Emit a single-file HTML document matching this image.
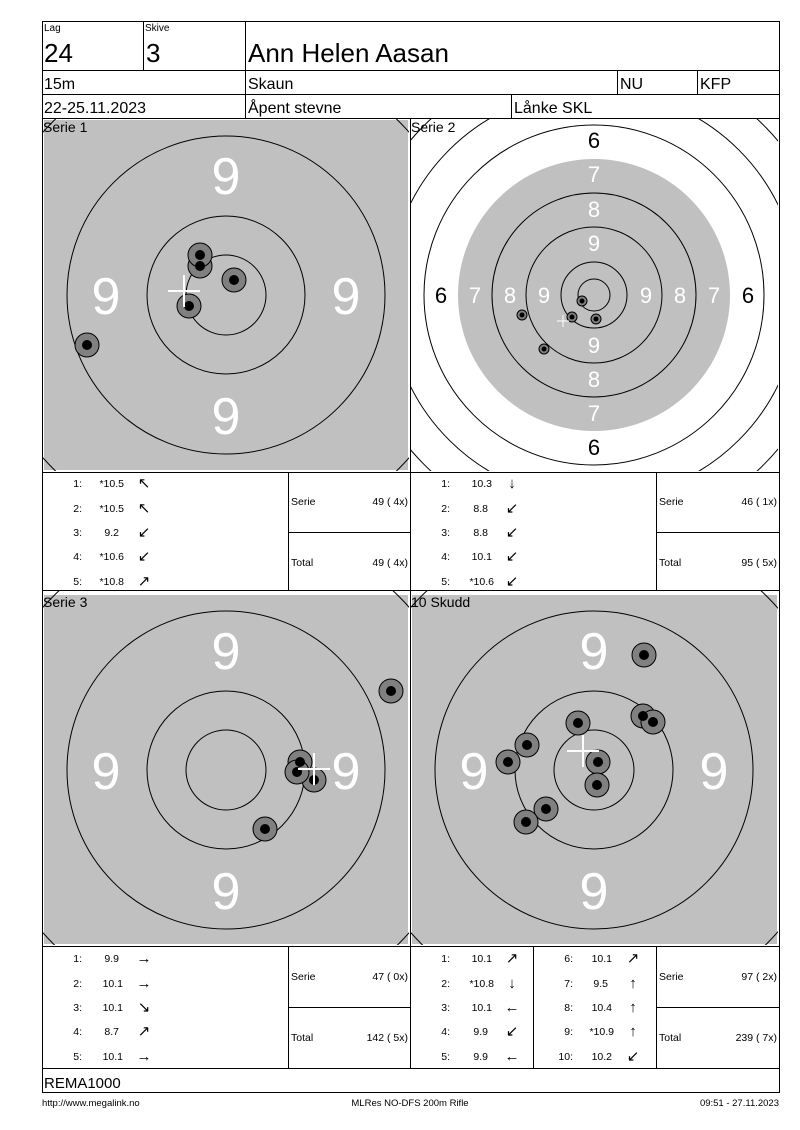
<!DOCTYPE html>
<html><head><meta charset="utf-8"><style>
html,body{margin:0;padding:0;background:#fff}
svg{display:block}
text{font-family:"Liberation Sans",Arial,sans-serif}
</style></head><body>
<svg width="800" height="1130" viewBox="0 0 800 1130" xmlns="http://www.w3.org/2000/svg">
<defs>
<clipPath id="c1"><rect x="43" y="119" width="366" height="352"/></clipPath>
<clipPath id="c2"><rect x="411" y="119" width="367" height="352"/></clipPath>
<clipPath id="c3"><rect x="43" y="591" width="366" height="354"/></clipPath>
<clipPath id="c4"><rect x="411" y="591" width="367" height="354"/></clipPath>
</defs>
<g fill="none" stroke="#000" stroke-width="1">
<!-- header -->
<rect x="42.5" y="21.5" width="737" height="1071"/>
<line x1="143.5" y1="21" x2="143.5" y2="70"/>
<line x1="245.5" y1="21" x2="245.5" y2="118"/>
<line x1="42" y1="70.5" x2="780" y2="70.5"/>
<line x1="42" y1="94.5" x2="780" y2="94.5"/>
<line x1="617.5" y1="70" x2="617.5" y2="94"/>
<line x1="697.5" y1="70" x2="697.5" y2="94"/>
<line x1="511.5" y1="94" x2="511.5" y2="118"/>
<line x1="42" y1="118.5" x2="780" y2="118.5"/>
<line x1="410.5" y1="118" x2="410.5" y2="1068"/>
<line x1="42" y1="472.5" x2="780" y2="472.5"/>
<line x1="42" y1="590.5" x2="780" y2="590.5"/>
<line x1="42" y1="946.5" x2="780" y2="946.5"/>
<line x1="42" y1="1068.5" x2="780" y2="1068.5"/>
<line x1="288.5" y1="472" x2="288.5" y2="590"/>
<line x1="656.5" y1="472" x2="656.5" y2="590"/>
<line x1="288.5" y1="946" x2="288.5" y2="1068"/>
<line x1="656.5" y1="946" x2="656.5" y2="1068"/>
<line x1="533.5" y1="946" x2="533.5" y2="1068"/>
<line x1="288" y1="532.5" x2="410" y2="532.5"/>
<line x1="656" y1="532.5" x2="780" y2="532.5"/>
<line x1="288" y1="1007.5" x2="410" y2="1007.5"/>
<line x1="656" y1="1007.5" x2="780" y2="1007.5"/>
</g>
<g font-size="10"><text x="44" y="31">Lag</text><text x="145" y="31">Skive</text></g>
<g font-size="26"><text x="44" y="62">24</text><text x="146" y="62">3</text><text x="248" y="62">Ann Helen Aasan</text></g>
<g font-size="16"><text x="44" y="89">15m</text><text x="248" y="89">Skaun</text><text x="620" y="89">NU</text><text x="700" y="89">KFP</text>
<text x="44" y="113">22-25.11.2023</text><text x="248" y="113">Åpent stevne</text><text x="514" y="113">Lånke SKL</text></g>

<!-- Serie 1 -->
<g clip-path="url(#c1)">
<rect x="44" y="120" width="364" height="350" fill="#c0c0c0"/>
<g fill="none" stroke="#000"><circle cx="226" cy="295" r="40"/><circle cx="226" cy="295" r="79"/><circle cx="226" cy="295" r="159"/><circle cx="226" cy="295" r="245"/></g>
<g fill="#fff" font-size="52" text-anchor="middle"><text x="226" y="194">9</text><text x="106" y="314">9</text><text x="346" y="314">9</text><text x="226" y="434">9</text></g>
<g fill="#808080" stroke="#000"><circle cx="200" cy="266" r="12"/><circle cx="200" cy="255" r="12"/><circle cx="234" cy="280" r="12"/><circle cx="189" cy="306" r="12"/><circle cx="87" cy="345" r="12"/></g>
<g fill="#000"><circle cx="200" cy="266" r="5"/><circle cx="200" cy="255" r="5"/><circle cx="234" cy="280" r="5"/><circle cx="189" cy="306" r="5"/><circle cx="87" cy="345" r="5"/></g>
<g stroke="#fff" stroke-width="2"><line x1="168" y1="291" x2="200" y2="291"/><line x1="184" y1="275" x2="184" y2="307"/></g>
</g>
<text x="43" y="132" font-size="14">Serie 1</text>

<!-- Serie 2 -->
<g clip-path="url(#c2)">
<circle cx="594" cy="295" r="136" fill="#c0c0c0"/>
<g fill="none" stroke="#000"><circle cx="594" cy="295" r="16"/><circle cx="594" cy="295" r="33"/><circle cx="594" cy="295" r="68"/><circle cx="594" cy="295" r="102"/><circle cx="594" cy="295" r="170"/><circle cx="594" cy="295" r="205"/><circle cx="594" cy="295" r="240"/></g>
<g fill="#fff" font-size="22" text-anchor="middle">
<text x="594" y="182">7</text><text x="594" y="217">8</text><text x="594" y="251">9</text>
<text x="594" y="353">9</text><text x="594" y="387">8</text><text x="594" y="421">7</text>
<text x="475" y="303">7</text><text x="510" y="303">8</text><text x="544" y="303">9</text>
<text x="646" y="303">9</text><text x="680" y="303">8</text><text x="714" y="303">7</text></g>
<g fill="#000" font-size="22" text-anchor="middle"><text x="594" y="148">6</text><text x="594" y="455">6</text><text x="441" y="303">6</text><text x="748" y="303">6</text></g>
<g fill="#808080" stroke="#000"><circle cx="582" cy="301" r="5"/><circle cx="572" cy="317" r="5"/><circle cx="596" cy="319" r="5"/><circle cx="522" cy="315" r="5"/><circle cx="544" cy="349" r="5"/></g>
<g fill="#000"><circle cx="582" cy="301" r="2.5"/><circle cx="572" cy="317" r="2.5"/><circle cx="596" cy="319" r="2.5"/><circle cx="522" cy="315" r="2.5"/><circle cx="544" cy="349" r="2.5"/></g>
<g stroke="#fff" stroke-width="1"><line x1="557" y1="321" x2="569" y2="321"/><line x1="563" y1="315" x2="563" y2="327"/></g>
</g>
<text x="411" y="132" font-size="14">Serie 2</text>

<!-- Serie 3 -->
<g clip-path="url(#c3)">
<rect x="44" y="595" width="364" height="349" fill="#c0c0c0"/>
<g fill="none" stroke="#000"><circle cx="226" cy="770" r="40"/><circle cx="226" cy="770" r="79"/><circle cx="226" cy="770" r="159"/><circle cx="226" cy="770" r="245"/></g>
<g fill="#fff" font-size="52" text-anchor="middle"><text x="226" y="669">9</text><text x="106" y="789">9</text><text x="346" y="789">9</text><text x="226" y="909">9</text></g>
<g fill="#808080" stroke="#000"><circle cx="391" cy="691" r="12"/><circle cx="300" cy="762" r="12"/><circle cx="314" cy="780" r="12"/><circle cx="297" cy="772" r="12"/><circle cx="265" cy="829" r="12"/></g>
<g fill="#000"><circle cx="391" cy="691" r="5"/><circle cx="300" cy="762" r="5"/><circle cx="314" cy="780" r="5"/><circle cx="297" cy="772" r="5"/><circle cx="265" cy="829" r="5"/></g>
<g stroke="#fff" stroke-width="2"><line x1="298" y1="769" x2="330" y2="769"/><line x1="314" y1="753" x2="314" y2="785"/></g>
</g>
<text x="43" y="607" font-size="14">Serie 3</text>

<!-- 10 skudd -->
<g clip-path="url(#c4)">
<rect x="412" y="595" width="365" height="349" fill="#c0c0c0"/>
<g fill="none" stroke="#000"><circle cx="594" cy="770" r="40"/><circle cx="594" cy="770" r="79"/><circle cx="594" cy="770" r="159"/><circle cx="594" cy="770" r="245"/></g>
<g fill="#fff" font-size="52" text-anchor="middle"><text x="594" y="669">9</text><text x="474" y="789">9</text><text x="714" y="789">9</text><text x="594" y="909">9</text></g>
<g fill="#808080" stroke="#000"><circle cx="644" cy="655" r="12"/><circle cx="578" cy="723" r="12"/><circle cx="643" cy="716" r="12"/><circle cx="653" cy="722" r="12"/><circle cx="527" cy="745" r="12"/><circle cx="508" cy="762" r="12"/><circle cx="598" cy="762" r="12"/><circle cx="597" cy="785" r="12"/><circle cx="546" cy="809" r="12"/><circle cx="526" cy="822" r="12"/></g>
<g fill="#000"><circle cx="644" cy="655" r="5"/><circle cx="578" cy="723" r="5"/><circle cx="643" cy="716" r="5"/><circle cx="653" cy="722" r="5"/><circle cx="527" cy="745" r="5"/><circle cx="508" cy="762" r="5"/><circle cx="598" cy="762" r="5"/><circle cx="597" cy="785" r="5"/><circle cx="546" cy="809" r="5"/><circle cx="526" cy="822" r="5"/></g>
<g stroke="#fff" stroke-width="2"><line x1="567" y1="751" x2="599" y2="751"/><line x1="583" y1="735" x2="583" y2="767"/></g>
</g>
<text x="411" y="607" font-size="14">10 Skudd</text>

<!-- tables -->
<g font-size="10.5">
<g text-anchor="end">
<text x="82" y="487">1:</text><text x="82" y="512">2:</text><text x="82" y="536">3:</text><text x="82" y="560">4:</text><text x="82" y="585">5:</text>
<text x="124" y="487">*10.5</text><text x="124" y="512">*10.5</text><text x="119" y="536">9.2</text><text x="124" y="560">*10.6</text><text x="124" y="585">*10.8</text>
<text x="450" y="487">1:</text><text x="450" y="512">2:</text><text x="450" y="536">3:</text><text x="450" y="560">4:</text><text x="450" y="585">5:</text>
<text x="492" y="487">10.3</text><text x="488" y="512">8.8</text><text x="488" y="536">8.8</text><text x="492" y="560">10.1</text><text x="494" y="585">*10.6</text>
<text x="82" y="962">1:</text><text x="82" y="987">2:</text><text x="82" y="1011">3:</text><text x="82" y="1035">4:</text><text x="82" y="1060">5:</text>
<text x="119" y="962">9.9</text><text x="123" y="987">10.1</text><text x="123" y="1011">10.1</text><text x="119" y="1035">8.7</text><text x="123" y="1060">10.1</text>
<text x="450" y="962">1:</text><text x="450" y="987">2:</text><text x="450" y="1011">3:</text><text x="450" y="1035">4:</text><text x="450" y="1060">5:</text>
<text x="492" y="962">10.1</text><text x="494" y="987">*10.8</text><text x="492" y="1011">10.1</text><text x="488" y="1035">9.9</text><text x="488" y="1060">9.9</text>
<text x="573" y="962">6:</text><text x="573" y="987">7:</text><text x="573" y="1011">8:</text><text x="573" y="1035">9:</text><text x="573" y="1060">10:</text>
<text x="612" y="962">10.1</text><text x="608" y="987">9.5</text><text x="612" y="1011">10.4</text><text x="614" y="1035">*10.9</text><text x="612" y="1060">10.2</text>
<text x="408" y="505">49 ( 4x)</text><text x="408" y="566">49 ( 4x)</text>
<text x="777" y="505">46 ( 1x)</text><text x="777" y="566">95 ( 5x)</text>
<text x="408" y="980">47 ( 0x)</text><text x="408" y="1041">142 ( 5x)</text>
<text x="777" y="980">97 ( 2x)</text><text x="777" y="1041">239 ( 7x)</text>
</g>
<text x="291" y="505">Serie</text><text x="291" y="566">Total</text>
<text x="659" y="505">Serie</text><text x="659" y="566">Total</text>
<text x="291" y="980">Serie</text><text x="291" y="1041">Total</text>
<text x="659" y="980">Serie</text><text x="659" y="1041">Total</text>
</g>
<g font-size="15" text-anchor="middle">
<text x="144" y="488">↖</text><text x="144" y="513">↖</text><text x="144" y="537">↙</text><text x="144" y="561">↙</text><text x="144" y="586">↗</text>
<text x="512" y="488">↓</text><text x="512" y="513">↙</text><text x="512" y="537">↙</text><text x="512" y="561">↙</text><text x="512" y="586">↙</text>
<text x="144" y="963">→</text><text x="144" y="988">→</text><text x="144" y="1012">↘</text><text x="144" y="1036">↗</text><text x="144" y="1061">→</text>
<text x="512" y="963">↗</text><text x="512" y="988">↓</text><text x="512" y="1012">←</text><text x="512" y="1036">↙</text><text x="512" y="1061">←</text>
<text x="633" y="963">↗</text><text x="633" y="988">↑</text><text x="633" y="1012">↑</text><text x="633" y="1036">↑</text><text x="633" y="1061">↙</text>
</g>
<text x="44" y="1088" font-size="15">REMA1000</text>
<g font-size="9.5"><text x="42" y="1106">http://www.megalink.no</text>
<text x="410" y="1106" text-anchor="middle">MLRes NO-DFS 200m Rifle</text>
<text x="779" y="1106" text-anchor="end">09:51 - 27.11.2023</text></g>
</svg>
</body></html>
